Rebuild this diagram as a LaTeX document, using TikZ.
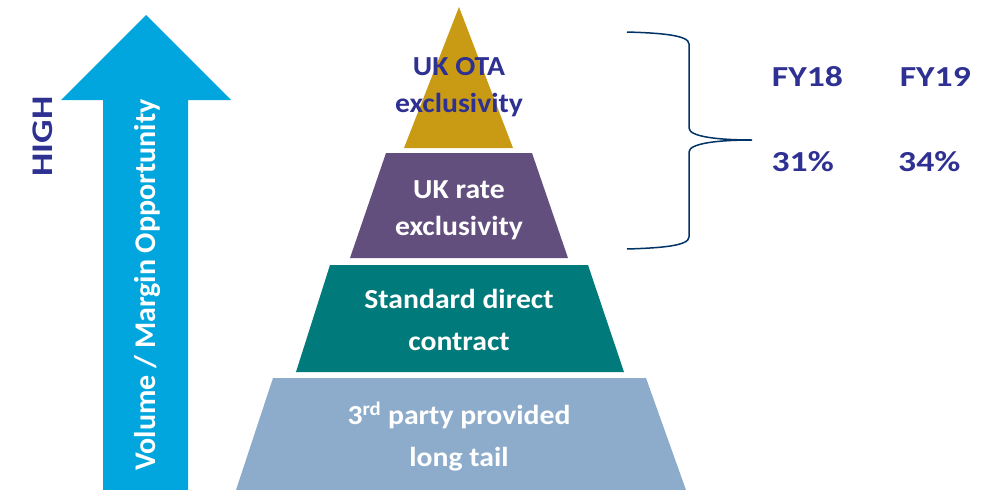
\documentclass[tikz,border=0pt]{standalone}
\usepackage{fontspec}
\setmainfont{Carlito}
\newfontfamily\tierfont{Carlito}[FakeStretch=1.08]
\newfontfamily\widefont{Carlito}[FakeStretch=1.23]
\definecolor{navytext}{RGB}{46,49,146}
\definecolor{arrowblue}{RGB}{0,166,221}
\definecolor{gold}{RGB}{201,155,20}
\definecolor{plum}{RGB}{99,79,125}
\definecolor{teal}{RGB}{0,122,122}
\definecolor{steel}{RGB}{141,172,203}
\definecolor{bracecol}{RGB}{0,51,102}
\tikzset{
  tier/.style={align=center, inner sep=0pt, font=\tierfont\fontsize{27.5}{37}\selectfont\bfseries},
  widetier/.style={tier, font=\tierfont\fontsize{27.5}{42}\selectfont\bfseries},
  figure/.style={anchor=base, inner sep=0pt, font=\widefont\fontsize{29}{34}\selectfont\bfseries, text=navytext},
}
\begin{document}
\begin{tikzpicture}[x=1pt,y=-1pt]
\useasboundingbox (0,0) rectangle (994,490);
% upward arrow
\fill[arrowblue] (103,490) -- (103,100) -- (61,100) -- (146,15) -- (231,100) -- (188,100) -- (188,490) -- cycle;
\node[rotate=90, anchor=base, inner sep=0pt, font=\fontsize{30}{34}\selectfont\bfseries, text=white] (axis) at (155,285) {Volume / Margin Opportunity};
\node[rotate=90, inner sep=0pt, font=\widefont\fontsize{30}{34}\selectfont\bfseries, text=navytext] (high) at (43,136.5) {HIGH};
% pyramid tiers
\fill[gold]  (459,7) -- (513,148) -- (404,148) -- cycle;
\fill[plum]  (386,153) -- (532,153) -- (568,258) -- (350,258) -- cycle;
\fill[teal]  (330,265) -- (588,265) -- (624,372) -- (296,372) -- cycle;
\fill[steel] (273,378) -- (646,378) -- (686,490) -- (236,490) -- cycle;
\node[tier, text=navytext] (ota) at (459,87) {UK OTA\\exclusivity};
\node[tier, text=white] (rate) at (459,210) {UK rate\\exclusivity};
\node[widetier, text=white] (direct) at (459,319.5) {Standard direct\\contract};
\node[widetier, text=white] (tail) at (459,437) {3\textsuperscript{rd} party provided\\long tail};
% brace grouping the two exclusivity tiers
\draw[bracecol, line width=1.5pt]
  (627,32) .. controls (660,33) and (689,35) .. (689,44)
  -- (689,128) .. controls (689,137) and (720,140) .. (752,140)
  .. controls (720,140) and (689,143) .. (689,152)
  -- (689,237) .. controls (689,246) and (660,248) .. (627,249);
% yearly figures
\node[figure] (fy18) at (807.5,86.7) {FY18};
\node[figure] (fy19) at (935.3,86.7) {FY19};
\node[figure] (p18) at (802.7,171.7) {31\%};
\node[figure] (p19) at (929.3,171.7) {34\%};
\end{tikzpicture}
\end{document}
